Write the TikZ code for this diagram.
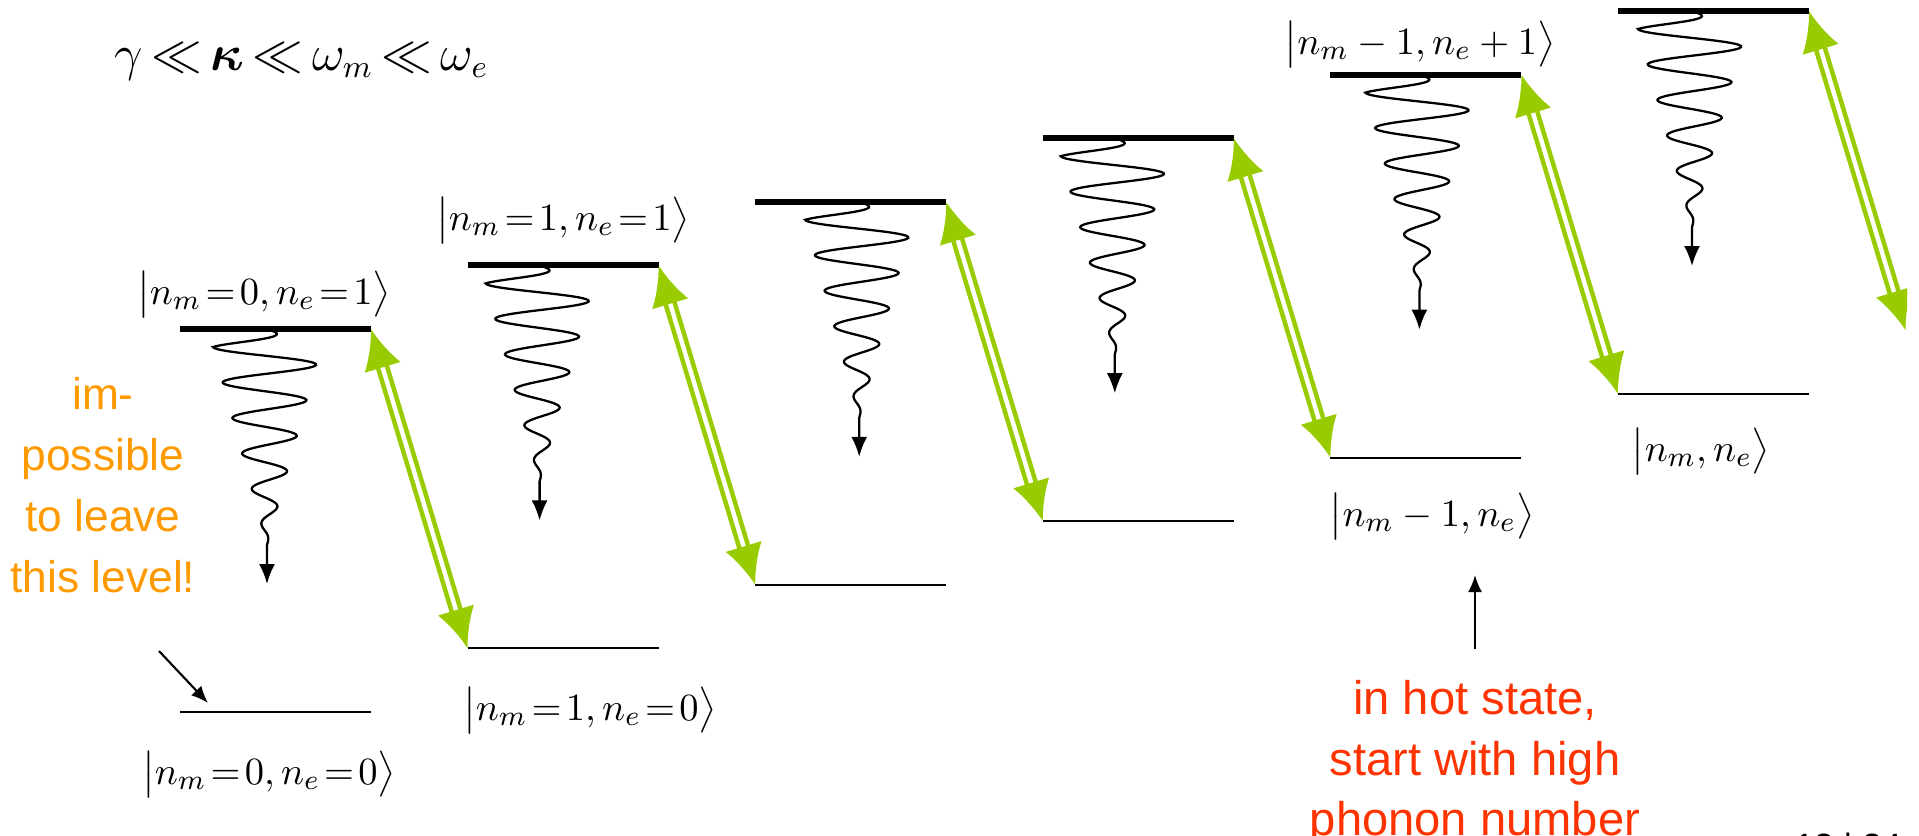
\documentclass[tikz,border=0pt]{standalone}
\usepackage{amsmath}
\usepackage{fontspec}
\setsansfont{Liberation Sans}
\usetikzlibrary{arrows.meta}

\definecolor{pumpgreen}{HTML}{99CC00}
\definecolor{hintorange}{HTML}{FF9900}
\definecolor{hotred}{HTML}{FF3300}

\newcommand{\ketlab}[1]{\thickmuskip=2mu\bigl|#1\bigr\rangle}

\begin{document}
\begin{tikzpicture}[x=0.01cm, y=-0.01cm,
  upper/.style={line width=1.7pt},
  lower/.style={line width=0.6pt},
  decay/.style={line width=0.65pt, -{Latex[length=2mm,width=1.6mm]}},
  pump/.style={draw=pumpgreen, line width=1.3pt, double=white, double distance=1.25pt,
    {Latex[length=4mm,width=3.8mm]}-{Latex[length=4mm,width=3.8mm]}},
  pointer/.style={line width=0.6pt, -{Latex[length=1.7mm,width=1.4mm]}},
  ketlabel/.style={font=\fontsize{11}{13}\selectfont, inner sep=0pt, anchor=base},
  note/.style={font=\sffamily\fontsize{13.4}{17.2}\selectfont, align=center, inner sep=0pt}]
  \useasboundingbox (0,0) rectangle (1919,835);

  % levels: upper (thick) and lower (thin), one step = (287.6,-63.6)
  \foreach \k/\dx in {1/87, 2/72, 3/104, 4/72, 5/89, 6/74}{
    \pgfmathsetmacro{\xl}{180+(\k-1)*287.6}
    \pgfmathsetmacro{\yu}{329-(\k-1)*63.6}
    \pgfmathsetmacro{\cx}{\xl+\dx}
    \coordinate (ul\k) at (\xl,\yu);
    \coordinate (ur\k) at (\xl+191,\yu);
    \coordinate (ll\k) at (\xl,\yu+383);
    \coordinate (lr\k) at (\xl+191,\yu+383);
    \draw[upper] (ul\k) -- (ur\k);
    \draw[lower] (ll\k) -- (lr\k);
    % damped wiggle down from the upper level (10.112 = 180/17.8)
    \draw[decay] plot[domain=0:216, samples=217, variable=\s]
      ({\cx-54*min(1,\s/18)*min(1,(216-\s)/198)*cos(10.112*(\s-18))}, {\yu+\s})
      -- (\cx,\yu+255);
  }
  % next lower level, off the slide
  \coordinate (ll7) at (1905.6,330.4);

  % green double arrows
  \foreach \k [evaluate=\k as \j using int(\k+1)] in {1,...,5}
    \draw[pump] (ur\k) -- (ll\j);
  \begin{scope}
    \clip (0,0) rectangle (1907,835);
    \draw[pump] (ur6) -- (ll7);
  \end{scope}

  % state labels
  \node[ketlabel] (k1u) at (264,304) {$\ketlab{n_m = 0, n_e = 1}$};
  \node[ketlabel] (k1l) at (269,784) {$\ketlab{n_m = 0, n_e = 0}$};
  \node[ketlabel] (k2u) at (563,230) {$\ketlab{n_m = 1, n_e = 1}$};
  \node[ketlabel] (k2l) at (590,720) {$\ketlab{n_m = 1, n_e = 0}$};
  \node[ketlabel] (k5u) at (1420,54) {$\ketlab{n_m - 1, n_e + 1}$};
  \node[ketlabel] (k5l) at (1432,526) {$\ketlab{n_m - 1, n_e}$};
  \node[ketlabel] (k6l) at (1701,461) {$\ketlab{n_m , n_e}$};

  \node[anchor=base west, inner sep=0pt, font=\fontsize{13.5}{16}\selectfont] (rates) at (114,70)
    {$\thickmuskip=3mu \gamma \ll \boldsymbol{\kappa} \ll \omega_m \ll \omega_e$};

  % notes
  \node[note, text=hintorange, font=\sffamily\fontsize{12.6}{17.4}\selectfont] (hint) at (103,485)
    {im-\\possible\\to leave\\this level!};
  \coordinate (hinttail) at (159,651);
  \coordinate (hinthead) at (208,703);
  \draw[pointer] (hinttail) -- (hinthead);

  \node[note, text=hotred] (hot) at (1475,763) {in hot state,\\start with high\\phonon number};
  \coordinate (hothead) at (1475,575);
  \draw[pointer] (hot.north) ++(0,-31) -- (hothead);

  \node[anchor=base, inner sep=0pt, font=\sffamily\fontsize{10}{12}\selectfont] (page) at (1848,858) {13 | 34};
\end{tikzpicture}
\end{document}
